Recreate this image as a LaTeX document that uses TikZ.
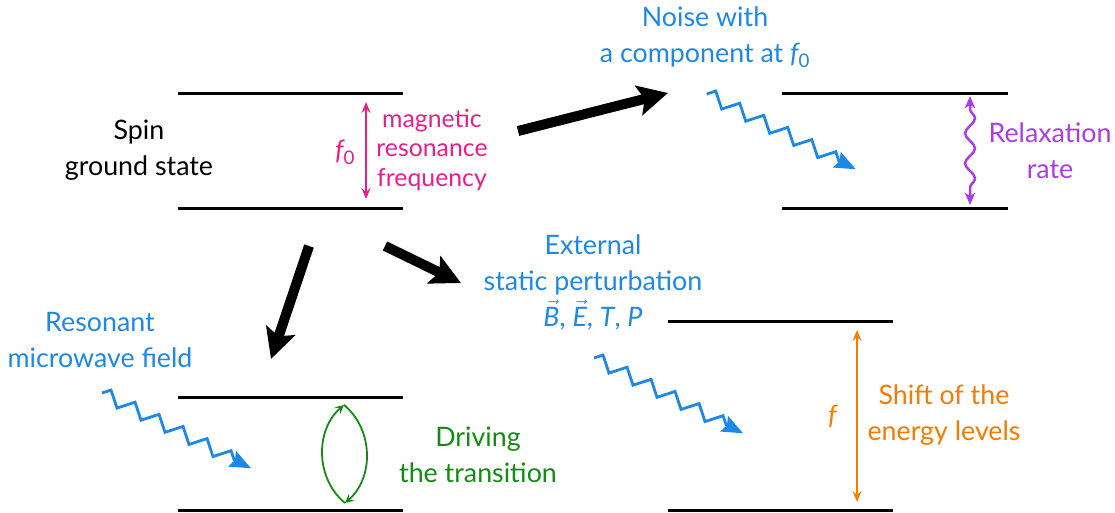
\documentclass[tikz,border=0pt]{standalone}
\usepackage{amsmath}
\usepackage{fontspec}
\setmainfont{Lato}
\usetikzlibrary{arrows.meta,decorations.pathmorphing}
\definecolor{cblue}{RGB}{30,136,229}
\definecolor{cpink}{RGB}{233,30,140}
\definecolor{cpurple}{RGB}{170,60,235}
\definecolor{corange}{RGB}{245,124,0}
\definecolor{cgreen}{RGB}{20,140,20}
\newcommand{\zzpath}{(0,0) -- (6.725,6.7) -- (20.175,-6.7) -- (33.625,6.7) -- (47.075,-6.7) -- (60.525,6.7) -- (73.975,-6.7) -- (87.425,6.7) -- (100.875,-6.7) -- (114.325,6.7) -- (127.775,-6.7) -- (141.225,6.7) -- (147.95,0) -- (167,0)}
\begin{document}
\begin{tikzpicture}[x=1pt,y=1pt,
  level/.style={line width=3pt},
  txt/.style={align=center, inner sep=0pt, font=\fontsize{26.8}{36}\selectfont},
  pinktxt/.style={align=center, inner sep=0pt, font=\fontsize{24.8}{29.5}\selectfont, text=cpink},
  bigarrow/.style={line width=10pt, -{Stealth[length=30pt,width=30pt,inset=6pt]}},
  zzarrow/.style={cblue, line width=2.8pt, line join=miter, -{Stealth[length=21pt,width=17pt,inset=3pt]}},
  thinarrow/.style={line width=2pt, {Stealth[length=11pt,width=9pt,inset=4pt]}-{Stealth[length=11pt,width=9pt,inset=4pt]}},
  greenarrow/.style={cgreen, line width=1.8pt, -{Stealth[length=9pt,width=9pt,inset=4pt]}},
]
\useasboundingbox (0,0) rectangle (1115,-513);

% energy levels
\draw[level] (178,-94) -- (403,-94);
\draw[level] (178,-208) -- (403,-208);
\draw[level] (782,-94) -- (1008,-94);
\draw[level] (782,-208) -- (1008,-208);
\draw[level] (178,-397) -- (403,-397);
\draw[level] (178,-510) -- (403,-510);
\draw[level] (668,-321) -- (893,-321);
\draw[level] (668,-510) -- (893,-510);

% texts
\node[txt] (spin) at (139,-150) {Spin\\ground state};
\node[pinktxt, font=\fontsize{26.8}{29.5}\selectfont] (f0) at (345,-152) {$\textit{f}_{\textup{0}}$};
\node[pinktxt] (mrf) at (432,-150) {magnetic\\resonance\\frequency};
\node[txt, text=cblue] (noise) at (705,-37) {Noise with\\a component at $\textit{f}_{\textup{0}}$};
\node[txt, text=cpurple] (relax) at (1050,-151) {Relaxation\\rate};
\node[txt, text=cblue] (ext) at (593,-282) {External\\static perturbation\\$\vec{\textit{B}}$, $\vec{\textit{E}}$, \textit{T}, \textit{P}};
\node[txt, text=cblue] (res) at (100,-340) {Resonant\\microwave field};
\node[txt, text=cgreen] (drive) at (478,-455) {Driving\\the transition};
\node[txt, text=corange] (fsym) at (833,-416) {\textit{f}};
\node[txt, text=corange] (shift) at (944,-415) {Shift of the\\energy levels};

% big black arrows
\coordinate (a1s) at (518,-131);
\coordinate (a1e) at (668,-93);
\coordinate (a2s) at (309,-246);
\coordinate (a2e) at (271,-359);
\coordinate (a3s) at (385,-246);
\coordinate (a3e) at (461,-283);
\draw[bigarrow] (a1s) -- (a1e);
\draw[bigarrow] (a2s) -- (a2e);
\draw[bigarrow] (a3s) -- (a3e);

% frequency arrows
\coordinate (pk1) at (366,-102);
\coordinate (pk2) at (366,-199);
\draw[thinarrow, cpink] (pk1) -- (pk2);
\coordinate (or1) at (857,-330);
\coordinate (or2) at (857,-502);
\draw[thinarrow, corange] (or1) -- (or2);
\coordinate (pu1) at (970,-96);
\coordinate (pu2) at (970,-205);
\draw[cpurple, line width=2.5pt, {Stealth[length=12pt,width=10pt,inset=3pt]}-{Stealth[length=12pt,width=10pt,inset=3pt]}, decorate, decoration={snake, amplitude=5pt, segment length=30pt, pre length=13pt, post length=13pt}] (pu1) -- (pu2);

% green driving arcs
\coordinate (gt) at (344,-405);
\coordinate (gb) at (345,-503);
\draw[greenarrow] (gb) to[bend left=50] (gt);
\draw[greenarrow] (gt) to[bend left=50] (gb);

% zigzag arrows
\coordinate (z1) at (706.7,-94);
\coordinate (z2) at (102,-393);
\coordinate (z3) at (594,-358);
\begin{scope}[shift={(z1)}, rotate=-26.8]
  \draw[zzarrow] \zzpath;
\end{scope}
\begin{scope}[shift={(z2)}, rotate=-26.8]
  \draw[zzarrow] \zzpath;
\end{scope}
\begin{scope}[shift={(z3)}, rotate=-26.8]
  \draw[zzarrow] \zzpath;
\end{scope}
\end{tikzpicture}
\end{document}
